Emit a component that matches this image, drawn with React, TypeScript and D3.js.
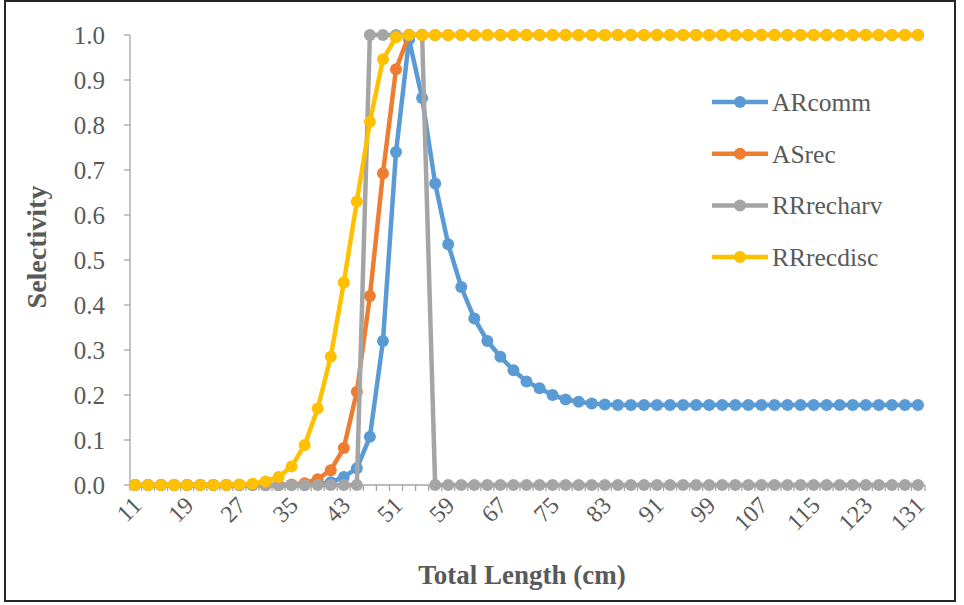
import React from "react";
import * as d3 from "d3";

const categories: number[] = [11,13,15,17,19,21,23,25,27,29,31,33,35,37,39,41,43,45,47,49,51,53,55,57,59,61,63,65,67,69,71,73,75,77,79,81,83,85,87,89,91,93,95,97,99,101,103,105,107,109,111,113,115,117,119,121,123,125,127,129,131];
const tickLabels: number[] = [11,19,27,35,43,51,59,67,75,83,91,99,107,115,123,131];
const yTicks: number[] = [0,0.1,0.2,0.3,0.4,0.5,0.6,0.7,0.8,0.9,1.0];

const ARcomm: number[] = [0,0,0,0,0,0,0,0,0,0,0,0,0,0,0.002,
  0.006,0.018,0.037,0.107,0.32,0.74,0.99,0.86,0.67,0.535,0.44,0.37,0.32,0.285,0.255,0.23,0.215,0.2,0.19,0.185,0.181,0.179,
  0.178,0.178,0.178,0.178,0.178,0.178,0.178,0.178,0.178,0.178,0.178,0.178,0.178,0.178,0.178,0.178,0.178,0.178,0.178,0.178,0.178,0.178,0.178,0.178];
const ASrec: number[] = [0,0,0,0,0,0,0,0,0,0,0,0,
  0.001,0.004,0.013,0.033,0.082,0.207,0.42,0.693,0.924,
  1,1,1,1,1,1,1,1,1,1,1,1,1,1,1,1,1,1,1,1,1,1,1,1,1,1,1,1,1,1,1,1,1,1,1,1,1,1,1,1];
const RRrecharv: number[] = [0,0,0,0,0,0,0,0,0,0,0,0,0,0,0,0,0,0,
  1,1,1,1,1,
  0,0,0,0,0,0,0,0,0,0,0,0,0,0,0,0,0,0,0,0,0,0,0,0,0,0,0,0,0,0,0,0,0,0,0,0,0,0];
const RRrecdisc: number[] = [0,0,0,0,0,0,0,0,
  0.001,0.003,0.008,0.018,0.041,0.089,0.17,0.285,0.45,0.63,0.807,0.946,0.995,
  1,1,1,1,1,1,1,1,1,1,1,1,1,1,1,1,1,1,1,1,1,1,1,1,1,1,1,1,1,1,1,1,1,1,1,1,1,1,1,1];

const seriesNames = ["ARcomm", "ASrec", "RRrecharv", "RRrecdisc"];
const seriesValues = [ARcomm, ASrec, RRrecharv, RRrecdisc];
const colors = ["#5B9BD5", "#ED7D31", "#A5A5A5", "#FFC000"];

export default function App() {
  const W = 964, H = 605;
  const axisLeft = 130, axisRight = 925, yTop = 35, yBottom = 485;
  const x = d3.scalePoint<number>().domain(categories).range([135, 918]);
  const y = d3.scaleLinear().domain([0, 1]).range([yBottom, yTop]);
  const line = d3.line<number>().x((_, i) => x(categories[i]) as number).y((d) => y(d));
  const xTickMarks: number[] = [axisLeft];
  for (let i = 0; i < categories.length - 1; i++) {
    xTickMarks.push(((x(categories[i]) as number) + (x(categories[i + 1]) as number)) / 2);
  }
  xTickMarks.push(axisRight);
  const font = "'Liberation Serif', 'Times New Roman', serif";
  const legendY0 = 102, legendDy = 51.7;

  return (
    <div style={{ position: "fixed", left: 0, top: 0 }}>
      <svg width={W} height={H} style={{ display: "block", background: "#fff" }}>
        <rect x={5} y={1} width={950} height={600} fill="#fff" stroke="#262626" strokeWidth={2} />
        {/* Y axis */}
        <line x1={axisLeft} x2={axisLeft} y1={yTop} y2={yBottom} stroke="#A6A6A6" strokeWidth={1.3} />
        {yTicks.map((t) => (
          <g key={t}>
            <line x1={axisLeft - 6} x2={axisLeft} y1={y(t)} y2={y(t)} stroke="#A6A6A6" strokeWidth={1.3} />
            <text x={axisLeft - 25} y={y(t)} dy="0.35em" textAnchor="end" fontFamily={font} fontSize={25} fill="#595959">
              {d3.format(".1f")(t)}
            </text>
          </g>
        ))}
        {/* X axis */}
        <line x1={axisLeft} x2={axisRight} y1={yBottom} y2={yBottom} stroke="#A6A6A6" strokeWidth={1.3} />
        {xTickMarks.map((tx, i) => (
          <line key={i} x1={tx} x2={tx} y1={yBottom} y2={yBottom + 6} stroke="#A6A6A6" strokeWidth={1.3} />
        ))}
        {tickLabels.map((c) => (
          <text key={c} transform={`translate(${(x(c) as number) - 4},${yBottom + 10}) rotate(-45)`} textAnchor="end" dy="0.7em"
            fontFamily={font} fontSize={24} fill="#595959">
            {c}
          </text>
        ))}
        {/* Series */}
        {seriesValues.map((vals, s) => (
          <g key={seriesNames[s]}>
            <path d={line(vals) || ""} fill="none" stroke={colors[s]} strokeWidth={4.5} strokeLinejoin="round" />
            {vals.map((v, i) => (
              <circle key={i} cx={x(categories[i]) as number} cy={y(v)} r={6} fill={colors[s]} />
            ))}
          </g>
        ))}
        {/* Legend */}
        {seriesNames.map((n, s) => (
          <g key={n} transform={`translate(712,${legendY0 + s * legendDy})`}>
            <line x1={0} x2={56} y1={0} y2={0} stroke={colors[s]} strokeWidth={4.5} />
            <circle cx={28} cy={0} r={6} fill={colors[s]} />
            <text x={60} y={0} dy="0.35em" fontFamily={font} fontSize={25.5} fill="#595959">{n}</text>
          </g>
        ))}
        {/* Axis titles */}
        <text x={522} y={584} textAnchor="middle" fontFamily={font} fontSize={27} fontWeight="bold" fill="#595959">
          Total Length (cm)
        </text>
        <text transform="translate(46,247) rotate(-90)" textAnchor="middle" fontFamily={font} fontSize={28} fontWeight="bold" fill="#595959">
          Selectivity
        </text>
      </svg>
    </div>
  );
}
